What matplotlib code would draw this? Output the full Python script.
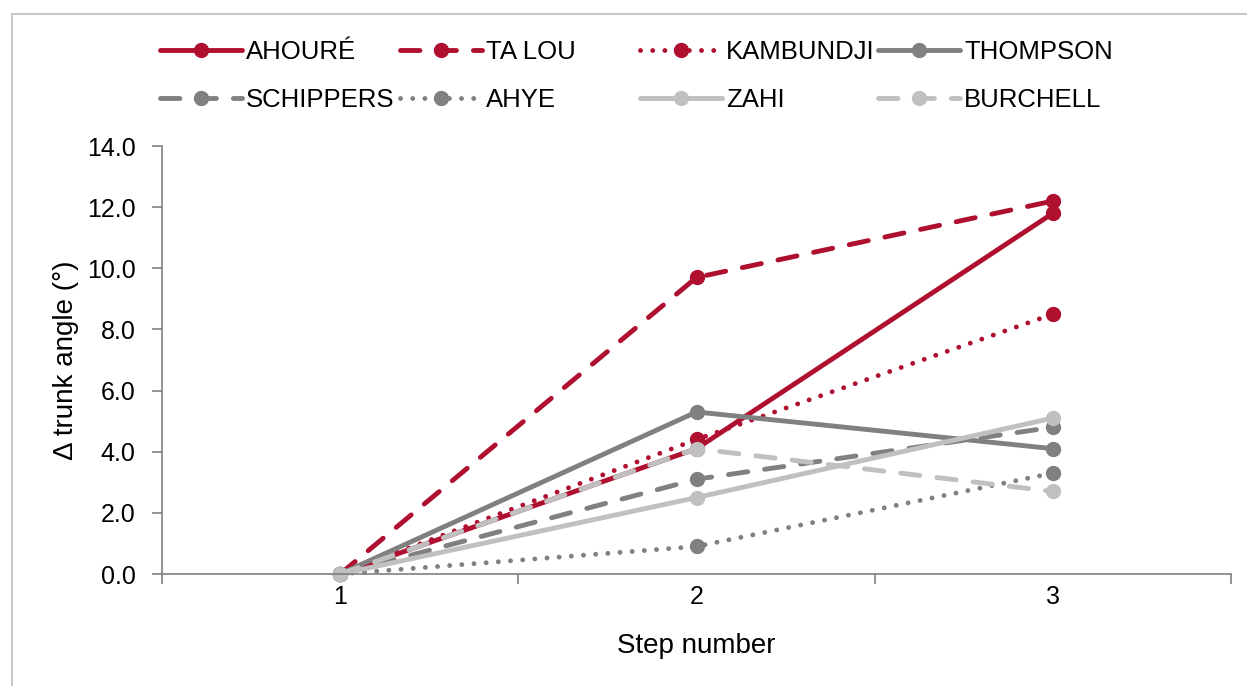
import matplotlib.pyplot as plt
from matplotlib.patches import Rectangle
from matplotlib.lines import Line2D

################################################################################
# Data.                                                                        #
################################################################################

steps = [1, 2, 3]
names = ['AHOURÉ', 'TA LOU', 'KAMBUNDJI', 'THOMPSON',
         'SCHIPPERS', 'AHYE', 'ZAHI', 'BURCHELL']
ahoure    = [0.0, 4.1, 11.8]
ta_lou    = [0.0, 9.7, 12.2]
kambundji = [0.0, 4.4, 8.5]
thompson  = [0.0, 5.3, 4.1]
schippers = [0.0, 3.1, 4.8]
ahye      = [0.0, 0.9, 3.3]
zahi      = [0.0, 2.5, 5.1]
burchell  = [0.0, 4.1, 2.7]
series = [ahoure, ta_lou, kambundji, thompson, schippers, ahye, zahi, burchell]

red, grey, light = '#B01030', '#808080', '#C0C0C0'
colors = [red, red, red, grey, grey, grey, light, light]
styles = ['solid', 'dash', 'dot', 'solid', 'dash', 'dot', 'solid', 'dash']
dash_pat = {'solid': None, 'dash': (4, 3.5), 'dot': (0.01, 2.5)}

plt.rcParams['font.family'] = ['Liberation Sans', 'DejaVu Sans']

################################################################################
# Plot.                                                                        #
################################################################################

fig = plt.figure(figsize=(12.47, 6.86), dpi=100)
fig.patches.append(Rectangle((12/1247, -0.1), 2, 1 - 14/686 + 0.1, transform=fig.transFigure,
                             fill=False, ec='#C8C8C8', lw=1.5))
ax = fig.add_axes([162/1247, 1 - 574/686, (1231-162)/1247, (574-146)/686])

def styled(line, st):
  if dash_pat[st] is not None:
    line.set_dashes(dash_pat[st])
  return line

handles = []
for vals, name, c, st in zip(series, names, colors, styles):
  line, = ax.plot(steps, vals, color=c, lw=3.5, marker='o', ms=10, label=name,
                  solid_capstyle='round', dash_capstyle='round', clip_on=False)
  handles.append(styled(line, st))

# Axes.
ax.set_xlim(0.5, 3.5)
ax.set_ylim(0, 14)
ax.set_xticks(steps)
ax.set_xticks([0.5, 1.5, 2.5, 3.5], minor=True)
ax.set_yticks(range(0, 15, 2))
ax.set_yticklabels(['%.1f' % v for v in range(0, 15, 2)])
ax.tick_params(axis='x', which='major', length=0, pad=8, labelsize=18)
ax.tick_params(axis='x', which='minor', length=7, width=1.2, color=grey, direction='out')
ax.tick_params(axis='y', length=7, width=1.2, color=grey, pad=12, labelsize=18)
for s in ['top', 'right']:
  ax.spines[s].set_visible(False)
for s in ['left', 'bottom']:
  ax.spines[s].set_color(grey)
  ax.spines[s].set_linewidth(1.2)
ax.set_xlabel('Step number', fontsize=20, labelpad=17)
ax.set_ylabel('Δ trunk angle (°)', fontsize=20, labelpad=6)

# Legend: four columns of two rows.
col_x = [160, 400, 640, 878]
for k in range(4):
  hs = []
  for j in (k, k+4):
    hl = Line2D([], [], color=colors[j], lw=3.5, marker='o', ms=10,
                solid_capstyle='round', dash_capstyle='round')
    hs.append(styled(hl, styles[j]))
  fig.legend(hs, [names[k], names[k+4]],
             loc='upper left', bbox_to_anchor=(col_x[k]/1247, 1 - 40/686),
             frameon=False, fontsize=18.5, handlelength=3.2, handletextpad=0.15,
             labelspacing=0.95, borderaxespad=0, borderpad=0)

fig.savefig('out.png', dpi=100)
plt.close()
